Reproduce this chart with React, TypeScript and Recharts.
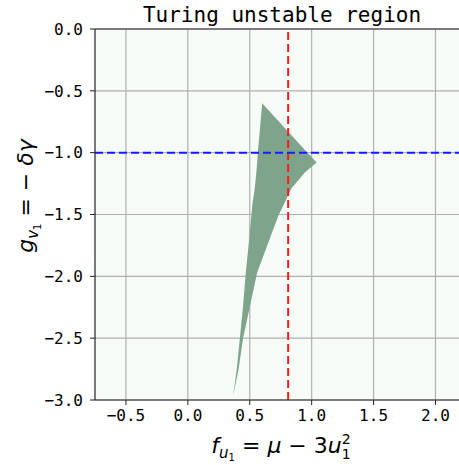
import React from 'react';
import { ComposedChart, Area, XAxis, YAxis, CartesianGrid, ReferenceLine } from 'recharts';

// boundary of the unstable region, sampled along g (y) with [left, right] f values
const gValues = [-0.6, -0.8, -1.0, -1.08, -1.16, -1.29, -1.43, -1.5, -1.7, -1.97, -2.25, -2.5, -2.75, -2.97];
const fLeft = [0.6, 0.583, 0.565, 0.56, 0.553, 0.54, 0.52, 0.514, 0.495, 0.468, 0.445, 0.42, 0.395, 0.365];
const fRight = [0.6, 0.783, 0.966, 1.04, 0.945, 0.836, 0.77, 0.735, 0.66, 0.56, 0.5, 0.446, 0.41, 0.365];

const xTicks = [-0.5, 0.0, 0.5, 1.0, 1.5, 2.0];
const yTicks = [0.0, -0.5, -1.0, -1.5, -2.0, -2.5, -3.0];
const fCritical = 0.81;
const gCritical = -1.0;

const data = gValues.map((g, i) => ({ g, range: [fLeft[i], fRight[i]] }));

const mono = '"DejaVu Sans Mono", monospace';
const sans = '"DejaVu Sans", sans-serif';
const fmt = (v: number) => v.toFixed(1).replace('-', '−');

export default function App() {
  return (
    <div style={{ position: 'absolute', left: 0, top: 0, width: 459, height: 465, background: '#fff' }}>
      <ComposedChart
        width={459}
        height={465}
        data={data}
        layout="vertical"
        margin={{ top: 29, right: 0, bottom: 0, left: 0 }}
      >
        <CartesianGrid stroke="#b0b0b0" strokeWidth={1.2} fill="#f7fbf7" fillOpacity={1} horizontalValues={yTicks} verticalValues={xTicks} />
        <XAxis
          type="number"
          domain={[-0.75, 2.19]}
          ticks={xTicks}
          allowDataOverflow
          height={65}
          tickFormatter={fmt}
          tick={{ fontFamily: mono, fontSize: 16, fill: '#000' }}
          axisLine={{ stroke: '#222', strokeWidth: 1.2 }}
          tickLine={{ stroke: '#222' }}
          tickSize={5}
          tickMargin={5}
        />
        <YAxis
          type="number"
          dataKey="g"
          domain={[-3, 0]}
          reversed
          ticks={yTicks}
          allowDataOverflow
          width={95}
          tickFormatter={fmt}
          tick={{ fontFamily: mono, fontSize: 16, fill: '#000' }}
          axisLine={{ stroke: '#222', strokeWidth: 1.2 }}
          tickLine={{ stroke: '#222' }}
          tickSize={5}
          tickMargin={7}
        />
        <Area
          type="linear"
          dataKey="range"
          stroke="none"
          fill="#7ea58c"
          fillOpacity={1}
          isAnimationActive={false}
        />
        <ReferenceLine y={0} stroke="#222" strokeWidth={1.2} />
        <ReferenceLine x={fCritical} stroke="#ff1a1a" strokeWidth={2} strokeDasharray="8 4" />
        <ReferenceLine y={gCritical} stroke="#1a1aff" strokeWidth={2} strokeDasharray="8 4" />
      </ComposedChart>
      <svg width={459} height={465} style={{ position: 'absolute', left: 0, top: 0, pointerEvents: 'none' }}>
        <text x={282} y={22} textAnchor="middle" fontFamily={mono} fontSize={21} fill="#000">
          Turing unstable region
        </text>
        <text x={281} y={453} textAnchor="middle" fontFamily={sans} fontSize={22} fill="#000">
          <tspan fontStyle="italic">f</tspan>
          <tspan fontStyle="italic" fontSize={15} dy={5}>u</tspan>
          <tspan fontSize={10} dy={3}>1</tspan>
          <tspan dy={-8}> = </tspan>
          <tspan fontStyle="italic">μ</tspan>
          <tspan> − 3</tspan>
          <tspan fontStyle="italic">u</tspan>
          <tspan fontSize={14} dy={-9}>2</tspan>
          <tspan fontSize={14} dx={-9} dy={15}>1</tspan>
        </text>
        <g transform="translate(33,196) rotate(-90)">
          <text x={0} y={0} textAnchor="middle" fontFamily={sans} fontSize={22} fill="#000">
            <tspan fontStyle="italic">g</tspan>
            <tspan fontStyle="italic" fontSize={15} dy={5}>v</tspan>
            <tspan fontSize={10} dy={3}>1</tspan>
            <tspan dy={-8}> = − </tspan>
            <tspan fontStyle="italic">δγ</tspan>
          </text>
        </g>
      </svg>
    </div>
  );
}
